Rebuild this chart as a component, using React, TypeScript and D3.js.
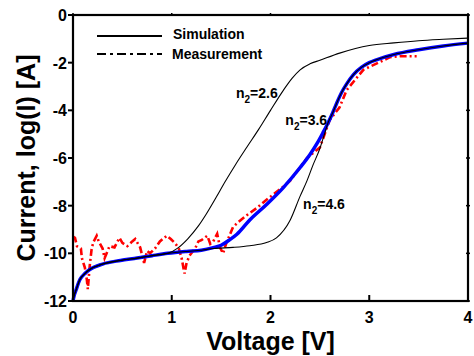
import React from "react";
import * as d3 from "d3";

const W = 474;
const H = 356;
const margin = { top: 15, right: 6, bottom: 55, left: 73 };
const innerW = W - margin.left - margin.right;
const innerH = H - margin.top - margin.bottom;

const xTicks = [0, 1, 2, 3, 4];
const yTicks = [0, -2, -4, -6, -8, -10, -12];

// simulation, n2 = 3.6 (blue)
const fitV = [0, 0.01, 0.03, 0.07, 0.12, 0.17, 0.3, 0.48, 0.65, 0.8, 0.96, 1.15, 1.3, 1.42, 1.5, 1.58, 1.66, 1.79, 1.96, 2.13, 2.3, 2.4, 2.47, 2.53, 2.58, 2.63, 2.67, 2.72, 2.77, 2.84, 2.92, 3.0, 3.08, 3.25, 3.5, 3.75, 4.0];
const fitI = [-12, -11.8, -11.55, -11.1, -10.85, -10.68, -10.45, -10.3, -10.2, -10.1, -10.0, -9.92, -9.87, -9.76, -9.66, -9.45, -9.2, -8.6, -7.95, -7.24, -6.4, -5.85, -5.4, -4.95, -4.55, -4.1, -3.7, -3.25, -2.9, -2.5, -2.2, -2.0, -1.87, -1.66, -1.46, -1.3, -1.18];

// n2 = 2.6
const sim26V = [0, 0.01, 0.03, 0.07, 0.12, 0.17, 0.3, 0.48, 0.65, 0.8, 0.96, 1.06, 1.16, 1.27, 1.35, 1.45, 1.54, 1.65, 1.76, 1.88, 2.0, 2.13, 2.22, 2.3, 2.4, 2.5, 2.7, 3.0, 3.25, 3.5, 3.75, 4.0];
const sim26I = [-12, -11.8, -11.55, -11.1, -10.85, -10.68, -10.45, -10.3, -10.2, -10.1, -10.0, -9.78, -9.4, -8.85, -8.35, -7.65, -7.0, -6.25, -5.55, -4.8, -4.0, -3.16, -2.65, -2.3, -2.05, -1.9, -1.6, -1.28, -1.17, -1.08, -1.02, -0.97];

// n2 = 4.6
const sim46V = [0, 0.01, 0.03, 0.07, 0.12, 0.17, 0.3, 0.48, 0.65, 0.8, 0.96, 1.15, 1.3, 1.42, 1.62, 1.79, 1.96, 2.06, 2.2, 2.3, 2.37, 2.43, 2.5, 2.55, 2.58, 2.63, 2.67, 2.72, 2.77, 2.84, 2.92, 3.0, 3.08, 3.25, 3.5, 3.75, 4.0];
const sim46I = [-12, -11.8, -11.55, -11.1, -10.85, -10.68, -10.45, -10.3, -10.2, -10.1, -10.0, -9.92, -9.87, -9.8, -9.75, -9.68, -9.55, -9.35, -8.6, -7.6, -6.95, -6.3, -5.6, -4.95, -4.55, -4.1, -3.7, -3.25, -2.9, -2.5, -2.2, -2.0, -1.87, -1.66, -1.46, -1.3, -1.18];

// measurement
const measV = [0.0, 0.02, 0.04, 0.08, 0.09, 0.12, 0.14, 0.15, 0.17, 0.19, 0.21, 0.24, 0.26, 0.3, 0.32, 0.35, 0.37, 0.42, 0.47, 0.5, 0.55, 0.6, 0.63, 0.68, 0.72, 0.75, 0.78, 0.83, 0.88, 0.95, 0.99, 1.03, 1.07, 1.1, 1.12, 1.13, 1.15, 1.18, 1.24, 1.27, 1.3, 1.36, 1.39, 1.42, 1.46, 1.49, 1.52, 1.55, 1.62, 1.67, 1.76, 1.86, 1.96, 2.1, 2.2, 2.37, 2.5, 2.6, 2.7, 2.77, 2.88, 2.94, 3.0, 3.11, 3.21, 3.31, 3.48];
const measI = [-9.3, -9.35, -9.7, -9.8, -10.2, -10.6, -11.1, -11.5, -10.5, -9.77, -9.5, -9.26, -9.5, -9.8, -10.2, -9.9, -9.7, -9.75, -9.35, -9.56, -9.7, -9.5, -9.4, -9.75, -10.4, -9.9, -10.0, -9.8, -9.5, -9.26, -9.4, -9.56, -9.77, -10.2, -10.65, -10.85, -10.4, -10.1, -9.77, -9.5, -9.45, -9.26, -9.6, -9.5, -9.18, -9.77, -10.0, -9.6, -8.9, -8.7, -8.4, -8.1, -7.75, -7.3, -6.95, -6.0, -5.56, -4.4, -3.87, -3.16, -2.6, -2.3, -2.18, -1.97, -1.77, -1.73, -1.73];

const labels = [
  { v: 1.65, i: -3.5, main: "2.6" },
  { v: 2.15, i: -4.63, main: "3.6" },
  { v: 2.33, i: -8.13, main: "4.6" },
];

const font = "'Liberation Sans', Arial, sans-serif";

export default function App() {
  const x = d3.scaleLinear().domain([0, 4]).range([0, innerW]);
  const y = d3.scaleLinear().domain([-12, 0]).range([innerH, 0]);

  const mk = (vs: number[], is: number[], curve = d3.curveMonotoneX) =>
    d3
      .line<number>()
      .x((d) => x(vs[d]))
      .y((d) => y(is[d]))
      .curve(curve)(d3.range(vs.length)) || "";

  return (
    <svg
      width={W}
      height={H}
      style={{ position: "absolute", left: 0, top: 0, background: "#fff" }}
      fontFamily={font}
      fontWeight="bold"
    >
      <g transform={`translate(${margin.left},${margin.top})`}>
        {/* curves */}
        <path d={mk(measV, measI, d3.curveLinear)} fill="none" stroke="#ff0000" strokeWidth={2.6} strokeDasharray="7,3,2,3" />
        <path d={mk(fitV, fitI)} fill="none" stroke="#0000ff" strokeWidth={3.5} />
        <path d={mk(sim26V, sim26I)} fill="none" stroke="#000" strokeWidth={1.1} />
        <path d={mk(sim46V, sim46I)} fill="none" stroke="#000" strokeWidth={1.1} />

        {labels.map((l) => (
          <text key={l.main} x={x(l.v)} y={y(l.i)} fontSize={14}>
            n<tspan fontSize={10} dy={5}>2</tspan>
            <tspan dy={-5}>={l.main}</tspan>
          </text>
        ))}

        {/* frame */}
        <rect x={0} y={0} width={innerW} height={innerH} fill="none" stroke="#000" strokeWidth={2.2} />

        {/* x ticks */}
        {xTicks.map((t) => (
          <g key={"x" + t}>
            <line x1={x(t)} x2={x(t)} y1={innerH} y2={innerH - 6} stroke="#000" strokeWidth={2} />
            <line x1={x(t)} x2={x(t)} y1={0} y2={-2} stroke="#000" strokeWidth={1.5} />
            <text x={x(t)} y={innerH + 22} fontSize={16} textAnchor="middle">
              {t}
            </text>
          </g>
        ))}

        {/* y ticks */}
        {yTicks.map((t) => (
          <g key={"y" + t}>
            <line x1={0} x2={-5} y1={y(t)} y2={y(t)} stroke="#000" strokeWidth={2} />
            <line x1={innerW - 2} x2={innerW + 2} y1={y(t)} y2={y(t)} stroke="#000" strokeWidth={1.5} />
            <text x={-6} y={y(t) + 6} fontSize={16} textAnchor="end">
              {t}
            </text>
          </g>
        ))}

        {/* legend */}
        <line x1={24} x2={89} y1={21} y2={21} stroke="#000" strokeWidth={2} />
        <text x={100} y={24} fontSize={14}>Simulation</text>
        <line x1={24} x2={89} y1={39} y2={39} stroke="#000" strokeWidth={2} strokeDasharray="9,4,3,4" />
        <text x={99} y={44} fontSize={14}>Measurement</text>
      </g>

      <text x={margin.left + innerW / 2} y={350} fontSize={25} textAnchor="middle">
        Voltage [V]
      </text>
      <text transform={`translate(35,${margin.top + innerH / 2}) rotate(-90)`} fontSize={25} textAnchor="middle">
        Current, log(I) [A]
      </text>
    </svg>
  );
}
